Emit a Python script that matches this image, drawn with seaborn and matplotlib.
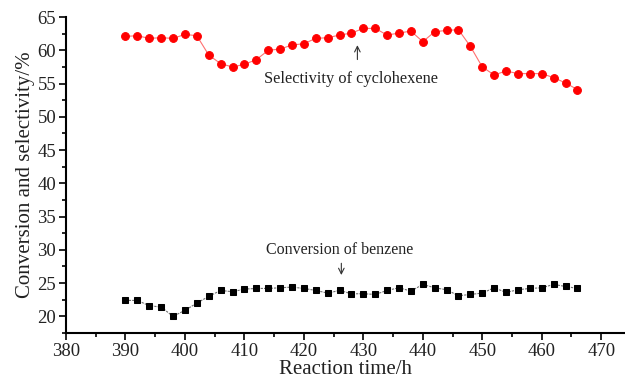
import matplotlib
matplotlib.use("Agg")
import matplotlib.pyplot as plt
import seaborn as sns
import numpy as np
import pandas as pd
from matplotlib.ticker import MultipleLocator

time_h = list(range(390, 468, 2))
selectivity = [62.1, 62.2, 61.8, 61.9, 61.8, 62.4, 62.2, 59.3, 58.0, 57.5,
               57.9, 58.6, 60.0, 60.2, 60.8, 61.0, 61.8, 61.9, 62.3, 62.6,
               63.3, 63.3, 62.3, 62.6, 62.9, 61.3, 62.8, 63.0, 63.1, 60.6,
               57.5, 56.3, 56.9, 56.5, 56.5, 56.5, 55.9, 55.1, 54.1]
conversion = [22.4, 22.4, 21.6, 21.4, 20.0, 20.9, 22.0, 23.0, 23.9, 23.7,
              24.1, 24.2, 24.2, 24.3, 24.4, 24.2, 23.9, 23.5, 23.9, 23.4,
              23.4, 23.3, 23.9, 24.3, 23.8, 24.8, 24.3, 24.0, 23.1, 23.3,
              23.5, 24.3, 23.6, 24.0, 24.2, 24.3, 24.8, 24.5, 24.2]

df = pd.DataFrame({"t": time_h, "sel": selectivity, "conv": conversion})

sns.set_style("ticks")
plt.rcParams["font.family"] = ["Liberation Serif", "DejaVu Serif"]

fig = plt.figure(figsize=(6.25, 3.8), dpi=100)
ax = fig.add_axes([0.1056, 0.1237, 0.8944, 0.8313])

sns.lineplot(data=df, x="t", y="sel", ax=ax, color="#ff7070", linewidth=0.8,
             marker="o", markersize=5.6, markerfacecolor="red",
             markeredgecolor="red")
sns.lineplot(data=df, x="t", y="conv", ax=ax, color="#707070", linewidth=0.8,
             linestyle=(0, (2, 1)),
             marker="s", markersize=4.8, markerfacecolor="black",
             markeredgecolor="black")

ax.set_xlim(380, 474)
ax.set_ylim(17.5, 65)
ax.xaxis.set_major_locator(MultipleLocator(10))
ax.xaxis.set_minor_locator(MultipleLocator(5))
ax.yaxis.set_major_locator(MultipleLocator(5))
ax.yaxis.set_minor_locator(MultipleLocator(2.5))
ax.tick_params(which="major", direction="out", length=5, width=1.2,
               labelsize=13.5, color="black", labelcolor="#222222", pad=2)
ax.tick_params(which="minor", direction="out", length=3, width=1.2, color="black")

for s in ["top", "right"]:
    ax.spines[s].set_visible(False)
for s in ["left", "bottom"]:
    ax.spines[s].set_linewidth(1.5)
    ax.spines[s].set_color("black")

ax.set_xlabel("Reaction time/h", fontsize=15, color="#222222", labelpad=0)
ax.set_ylabel("Conversion and selectivity/%", fontsize=15, color="#222222",
              labelpad=2)

ax.text(428, 55.7, "Selectivity of cyclohexene", fontsize=11.8,
        ha="center", va="center", color="#222222")
ax.annotate("", xy=(429, 61.2), xytext=(429, 58.2),
            arrowprops=dict(arrowstyle="->", color="#333333", lw=0.8))
ax.text(426, 30.0, "Conversion of benzene", fontsize=11.5,
        ha="center", va="center", color="#222222")
ax.annotate("", xy=(426.3, 25.8), xytext=(426.3, 28.4),
            arrowprops=dict(arrowstyle="->", color="#333333", lw=0.8))

fig.savefig("out.png", dpi=100)
